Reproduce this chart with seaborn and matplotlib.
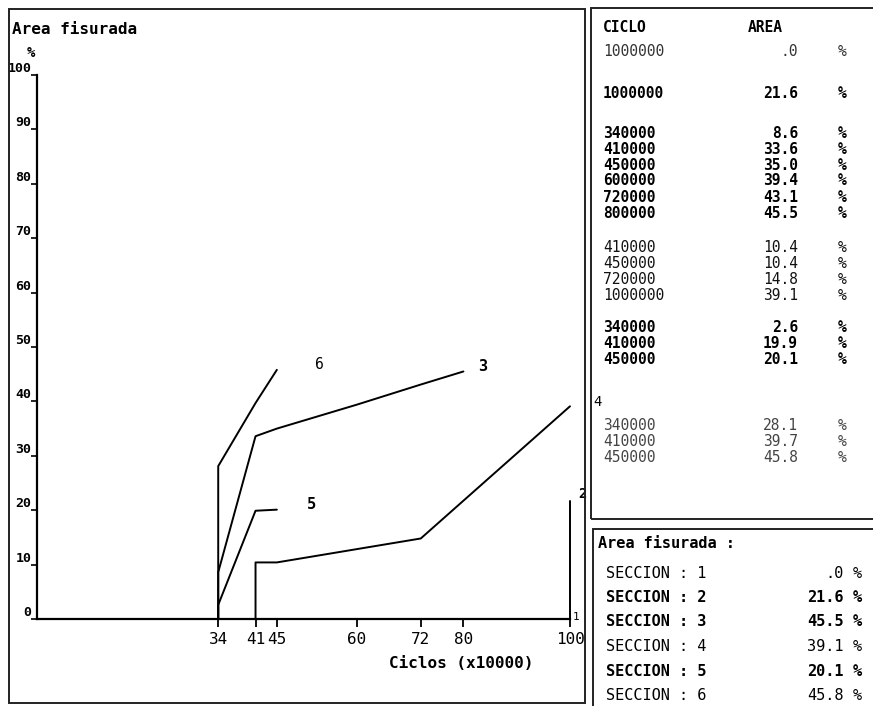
import numpy as np
import pandas as pd
import matplotlib
matplotlib.use("Agg")
import matplotlib.pyplot as plt
import seaborn as sns
from matplotlib.patches import Rectangle

# ---------------- data ----------------
secciones = [1, 2, 3, 4, 5, 6]
sec1_ciclo = [1000000]
sec1_area = [0.0]
sec2_ciclo = [1000000]
sec2_area = [21.6]
sec3_ciclo = [340000, 410000, 450000, 600000, 720000, 800000]
sec3_area = [8.6, 33.6, 35.0, 39.4, 43.1, 45.5]
sec4_ciclo = [410000, 450000, 720000, 1000000]
sec4_area = [10.4, 10.4, 14.8, 39.1]
sec5_ciclo = [340000, 410000, 450000]
sec5_area = [2.6, 19.9, 20.1]
sec6_ciclo = [340000, 410000, 450000]
sec6_area = [28.1, 39.7, 45.8]
final_area = [0.0, 21.6, 45.5, 39.1, 20.1, 45.8]
x_ticks = [34, 41, 45, 60, 72, 80, 100]
y_ticks = [0, 10, 20, 30, 40, 50, 60, 70, 80, 90, 100]

ciclos = [sec1_ciclo, sec2_ciclo, sec3_ciclo, sec4_ciclo, sec5_ciclo, sec6_ciclo]
areas = [sec1_area, sec2_area, sec3_area, sec4_area, sec5_area, sec6_area]

# ---------------- style ----------------
sns.set_theme(style="white")
plt.rcParams['font.family'] = ['DejaVu Sans Mono']
plt.rcParams['text.color'] = 'black'

W, H = 873, 706
fig = plt.figure(figsize=(W / 100, H / 100), dpi=100)
fig.patch.set_facecolor('white')

def fx(px):
    return px / W

def fy(py):
    return 1 - py / H

# frames
frame_kw = dict(fill=False, edgecolor='#222222', linewidth=1.4, transform=fig.transFigure)
fig.add_artist(Rectangle((fx(9), fy(703)), fx(585) - fx(9), fy(9) - fy(703), **frame_kw))
fig.add_artist(Rectangle((fx(591), fy(519)), fx(880) - fx(591), fy(8) - fy(519), **frame_kw))
fig.add_artist(Rectangle((fx(593), fy(712)), fx(880) - fx(593), fy(529) - fy(712), **frame_kw))

# main axes: x 0..100 -> px 37..570 ; y 0..100 -> px 619..75
ax = fig.add_axes([fx(37), fy(619), fx(570) - fx(37), fy(75) - fy(619)])
ax.set_facecolor('none')

rows = []
for s, c, a in zip(secciones, ciclos, areas):
    xs = [v / 10000 for v in c]
    rows.append(dict(sec=s, order=0, x=xs[0], y=0.0))
    for i, (xv, yv) in enumerate(zip(xs, a)):
        rows.append(dict(sec=s, order=i + 1, x=xv, y=yv))
df = pd.DataFrame(rows)

sns.lineplot(data=df, x='x', y='y', units='sec', estimator=None, sort=False,
             color='black', linewidth=1.4, ax=ax, legend=False)
for ln in ax.get_lines():
    ln.set_clip_on(False)

ax.set_xlim(0, 100)
ax.set_ylim(0, 100)
for sp in ['top', 'right']:
    ax.spines[sp].set_visible(False)
for sp in ['left', 'bottom']:
    ax.spines[sp].set_color('black')
    ax.spines[sp].set_linewidth(1.6)
ax.set_xlabel('')
ax.set_ylabel('')
ax.set_xticks(x_ticks)
ax.set_xticklabels([str(v) for v in x_ticks])
ax.set_yticks(y_ticks)
ax.set_yticklabels([str(v) for v in y_ticks])
ax.tick_params(axis='x', direction='out', length=6, width=1.3, pad=3,
               labelsize=11.5, bottom=True, colors='black')
ax.tick_params(axis='y', direction='out', length=4, width=1.2, pad=0,
               labelsize=9.5, left=True, colors='black')
for lab in ax.get_yticklabels():
    lab.set_va('bottom')
    lab.set_fontweight('bold')

# series labels near last point (offsets in px)
label_off = {1: (3, 2, 8, 'normal'), 2: (8, 7, 10, 'bold'), 3: (15, 5, 11, 'bold'),
             4: (23, 4, 10, 'normal'), 5: (30, 5, 11, 'bold'), 6: (38, 5, 10.5, 'normal')}
for s, c, a in zip(secciones, ciclos, areas):
    dx, dy, fs, fw = label_off[s]
    ax.annotate(str(s), xy=(c[-1] / 10000, a[-1]), xytext=(dx * 0.72, dy * 0.72),
                textcoords='offset points', ha='left', va='center',
                fontsize=fs, fontweight=fw, annotation_clip=False)

# titles of main panel
fig.text(fx(12), fy(30), 'Area fisurada', fontsize=11.5, fontweight='bold', va='center', ha='left')
fig.text(fx(31), fy(53), '%', fontsize=10, fontweight='bold', va='center', ha='center')
fig.text(fx(461), fy(664), 'Ciclos (x10000)', fontsize=11.5, fontweight='bold', va='center', ha='center')

# ---------------- top-right table ----------------
fig.text(fx(603), fy(28), 'CICLO', fontsize=10.5, fontweight='bold', va='center', ha='left')
fig.text(fx(748), fy(28), 'AREA', fontsize=10.5, fontweight='bold', va='center', ha='left')
group_start = [52, 93, 133, 247, 328, 425]
group_weight = ['normal', 'bold', 'bold', 'normal', 'bold', 'normal']
group_color = ['#333333', 'black', 'black', '#111111', 'black', '#444444']
row_step = 16
for g, (c, a) in enumerate(zip(ciclos, areas)):
    for i, (cv, av) in enumerate(zip(c, a)):
        yy = fy(group_start[g] + i * row_step)
        kw = dict(fontsize=10.5, fontweight=group_weight[g], color=group_color[g], va='center')
        fig.text(fx(603), yy, str(cv), ha='left', **kw)
        val = f'{av:.1f}'
        if val.startswith('0.'):
            val = val[1:]
        fig.text(fx(798), yy, val, ha='right', **kw)
        fig.text(fx(842), yy, '%', ha='center', **kw)

# ---------------- bottom-right table ----------------
fig.text(fx(598), fy(543), 'Area fisurada :', fontsize=11, fontweight='bold', va='center', ha='left')
sec_weight = ['normal', 'bold', 'bold', 'normal', 'bold', 'normal']
for i, (s, v) in enumerate(zip(secciones, final_area)):
    yy = fy(573 + i * 24.5)
    kw = dict(fontsize=11, fontweight=sec_weight[i], va='center')
    fig.text(fx(606), yy, f'SECCION : {s}', ha='left', **kw)
    val = f'{v:.1f}'
    if val.startswith('0.'):
        val = val[1:]
    fig.text(fx(844), yy, val, ha='right', **kw)
    fig.text(fx(857), yy, '%', ha='center', **kw)

fig.savefig('out.png', dpi=100, facecolor='white')
